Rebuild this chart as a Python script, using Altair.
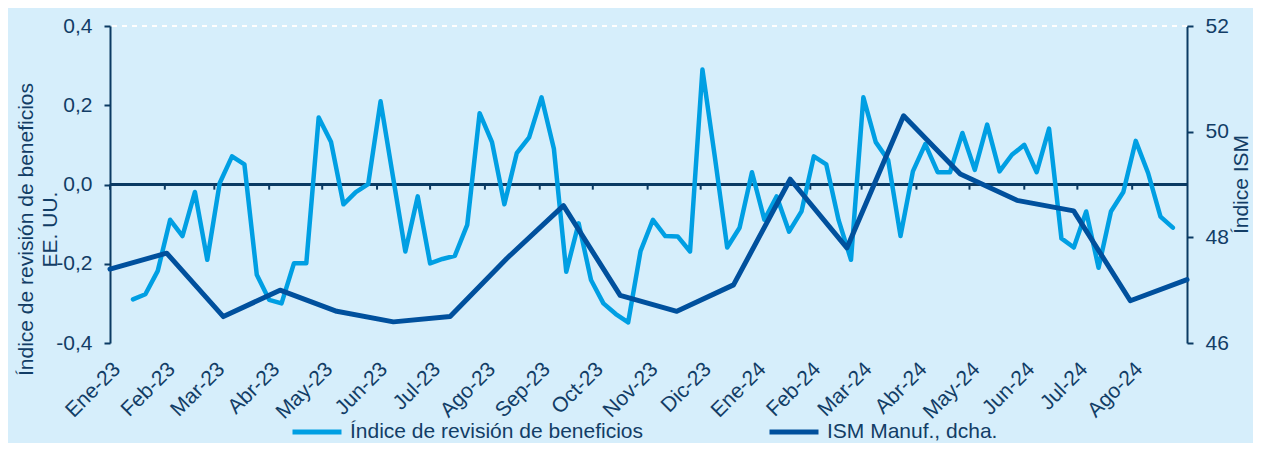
import json
import altair as alt
import pandas as pd

# ---------------- data ----------------
serie_rev = "Índice de revisión de beneficios"
serie_ism = "ISM Manuf., dcha."

etiquetas_mes = ["Ene-23", "Feb-23", "Mar-23", "Abr-23", "May-23", "Jun-23", "Jul-23",
                 "Ago-23", "Sep-23", "Oct-23", "Nov-23", "Dic-23", "Ene-24", "Feb-24",
                 "Mar-24", "Abr-24", "May-24", "Jun-24", "Jul-24", "Ago-24"]

ism = [47.4, 47.7, 46.5, 47.0, 46.6, 46.4, 46.5, 47.6, 48.6, 46.9,
       46.6, 47.1, 49.1, 47.8, 50.3, 49.2, 48.7, 48.5, 46.8, 47.2]

revision = [-0.29, -0.277, -0.218, -0.089, -0.13, -0.019, -0.19, 0.003, 0.071, 0.051,
            -0.228, -0.291, -0.30, -0.199, -0.199, 0.169, 0.107, -0.05, -0.019, 0.001,
            0.21, 0.02, -0.169, -0.03, -0.199, -0.188, -0.18, -0.102, 0.18, 0.107,
            -0.05, 0.079, 0.119, 0.22, 0.09, -0.22, -0.098, -0.241, -0.30, -0.327,
            -0.348, -0.168, -0.089, -0.13, -0.131, -0.169, 0.29, 0.07, -0.159, -0.109,
            0.031, -0.089, -0.03, -0.119, -0.068, 0.071, 0.051, -0.09, -0.19, 0.22,
            0.107, 0.062, -0.13, 0.033, 0.102, 0.031, 0.031, 0.13, 0.037, 0.151,
            0.033, 0.075, 0.10, 0.031, 0.141, -0.136, -0.159, -0.068, -0.21, -0.068,
            -0.019, 0.11, 0.029, -0.081, -0.109]

primera_semana = "2023-01-14"

# ---------------- style ----------------
NAVY = "#123d66"
AXIS = "#0b3a63"
C_REV = "#009fe3"
C_ISM = "#00509d"
BG = "#d6eefb"
FONT = "Liberation Sans"
FS = 21

fechas_sem = pd.date_range(primera_semana, periods=len(revision), freq="7D").strftime("%Y-%m-%d")
df_rev = pd.DataFrame({"fecha": fechas_sem, "valor": revision, "serie": serie_rev})
df_ism = pd.DataFrame({"mes": etiquetas_mes, "valor": ism, "serie": serie_ism})
inicios = pd.date_range("2023-01-01", periods=len(etiquetas_mes), freq="MS")
df_ticks = pd.DataFrame({"fecha": inicios.strftime("%Y-%m-%d")})

x_values = [alt.DateTime(year=int(d.year), month=int(d.month), date=1, utc=True) for d in inicios]
xscale = alt.Scale(type="utc", domain=[alt.DateTime(year=2023, month=1, date=1, utc=True),
                                       alt.DateTime(year=2024, month=9, date=1, utc=True)])
label_expr_x = f"{json.dumps(etiquetas_mes)}[(utcyear(datum.value)-2023)*12 + utcmonth(datum.value)]"

x_axis = alt.Axis(values=x_values, labelExpr=label_expr_x, labelAngle=315, labelAlign="right",
                  labelBaseline="top", labelPadding=15, labelOffset=-1, domain=False, ticks=False,
                  grid=False, title=None, labelFontSize=FS, labelColor=NAVY, labelOverlap=False,
                  labelFlush=False, labelBound=False)
x_enc = alt.X("fecha:T", scale=xscale, axis=x_axis)

y_axis = alt.Axis(values=[-0.4, -0.2, 0, 0.2, 0.4],
                  labelExpr="(datum.value < -1e-9 ? '-' : '') + replace(format(abs(datum.value), '.1f'), '.', ',')",
                  title=[serie_rev, "EE. UU."], grid=False, domainColor=AXIS, domainWidth=2,
                  tickColor=AXIS, tickSize=6, tickWidth=2, labelPadding=12,
                  titleAngle=270, titleX=-95, titleY=203, titleBaseline="top",
                  titleAlign="center", titleLineHeight=24)
y_scale = alt.Scale(domain=[-0.4, 0.4], nice=False, zero=False)
y_enc = alt.Y("valor:Q", scale=y_scale, axis=y_axis)

color_scale = alt.Scale(domain=[serie_rev, serie_ism], range=[C_REV, C_ISM])
legend = alt.Legend(orient="none", legendX=180, legendY=379, direction="horizontal", title=None,
                    symbolType="stroke", symbolSize=2400, symbolStrokeWidth=5,
                    labelFontSize=FS, labelColor=NAVY, labelOffset=6, columnPadding=115,
                    labelLimit=500)

grid = alt.Chart(df_rev).mark_rule(color="white", strokeDash=[5, 5], strokeWidth=1, opacity=0.8).encode(
    y=alt.datum(0.4))
zero = alt.Chart(df_rev).mark_rule(color=AXIS, strokeWidth=2).encode(y=alt.datum(0))
ticks = alt.Chart(df_ticks).mark_rule(color=AXIS, strokeWidth=2).encode(
    x=x_enc, y=alt.datum(0), y2=alt.datum(-0.013))
rev_line = alt.Chart(df_rev).mark_line(strokeWidth=4.5, strokeCap="round", strokeJoin="round").encode(
    x=x_enc, y=y_enc, color=alt.Color("serie:N", scale=color_scale, legend=legend))

left = alt.layer(grid, zero, ticks, rev_line)

ism_line = alt.Chart(df_ism).mark_line(strokeWidth=5, strokeCap="round", strokeJoin="round").encode(
    x=alt.X("mes:O", sort=None, scale=alt.Scale(type="point", padding=0), axis=None),
    y=alt.Y("valor:Q", scale=alt.Scale(domain=[46, 52], nice=False, zero=False),
            axis=alt.Axis(orient="right", values=[46, 48, 50, 52], title="Índice ISM", grid=False,
                          domainColor=AXIS, domainWidth=2, tickColor=AXIS, tickSize=6, tickWidth=2,
                          labelPadding=12, titleAngle=270, titleX=43, titleY=158,
                          titleBaseline="top", titleAlign="center")),
    color=alt.Color("serie:N", scale=color_scale, legend=legend))

chart = alt.layer(left, ism_line).resolve_scale(x="independent", y="independent").properties(
    width=1077, height=317,
    padding={"left": 102, "top": 18, "right": 66, "bottom": 100},
    autosize=alt.AutoSizeParams(type="none"),
).configure(background=BG, font=FONT).configure_view(stroke=None).configure_axis(
    labelFont=FONT, titleFont=FONT, labelFontSize=FS, titleFontSize=FS, titleFontWeight="normal",
    labelColor=NAVY, titleColor=NAVY,
).configure_legend(labelFont=FONT)

chart.save("out.html", embed_options={"renderer": "svg", "actions": False})
